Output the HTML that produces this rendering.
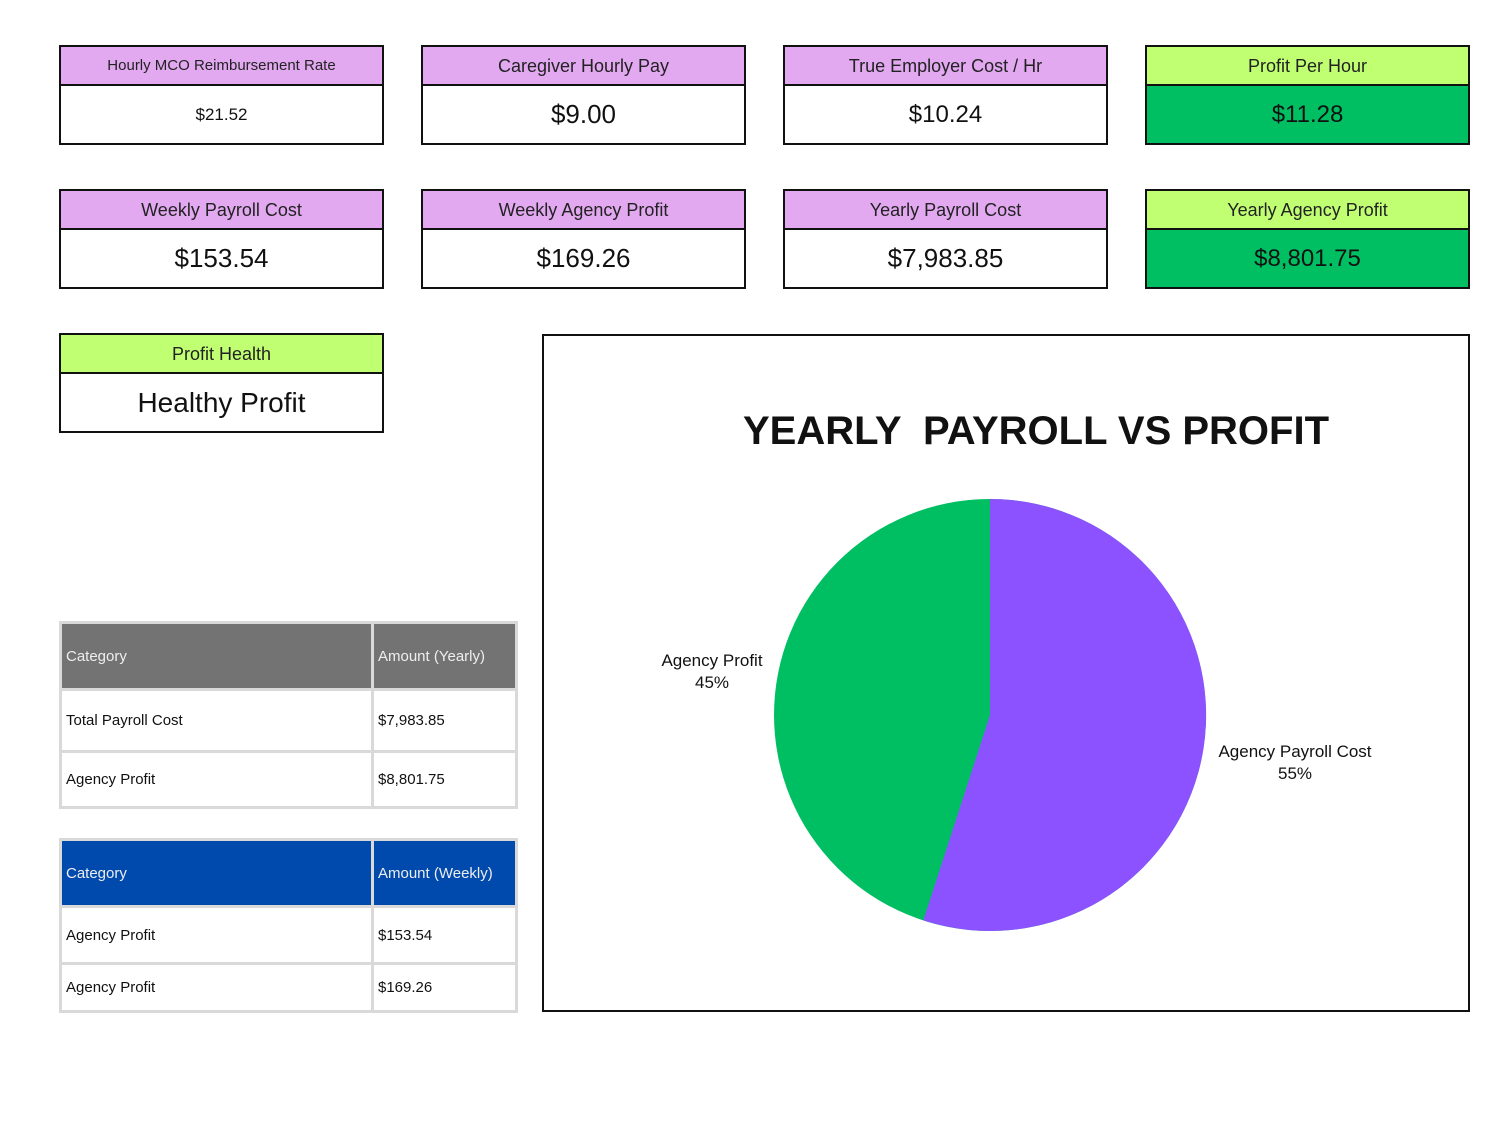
<!DOCTYPE html>
<html><head><meta charset="utf-8"><style>
*{margin:0;padding:0;box-sizing:border-box}
body{width:1500px;height:1124px;background:#fff;position:relative;font-family:"Liberation Sans",sans-serif;color:#111;overflow:hidden}
.card{position:absolute;width:325px;height:100px;border:2px solid #111;background:#fff}
.card .h{height:39px;border-bottom:2px solid #111;background:#e2a9f1;text-align:center;line-height:38px;font-size:18px;color:#222}
.card .v{height:57px;text-align:center;line-height:57px;font-size:26px}
.card.g .h{background:#c1ff72}
.card.g .v{background:#00bf63}
.t{position:absolute;border:3px solid #d9d9d9;border-collapse:collapse;font-size:15px}
.t td{border:3px solid #d9d9d9;padding-left:4px;vertical-align:middle}
.lbl{position:absolute;font-size:17px;text-align:center;line-height:22px}
</style></head><body>
<div class="card" style="left:59px;top:45px"><div class="h" style="font-size:15px">Hourly MCO Reimbursement Rate</div><div class="v" style="font-size:17px">$21.52</div></div>
<div class="card" style="left:421px;top:45px"><div class="h">Caregiver Hourly Pay</div><div class="v">$9.00</div></div>
<div class="card" style="left:783px;top:45px"><div class="h">True Employer Cost / Hr</div><div class="v" style="font-size:24px">$10.24</div></div>
<div class="card g" style="left:1145px;top:45px"><div class="h">Profit Per Hour</div><div class="v" style="font-size:24px">$11.28</div></div>
<div class="card" style="left:59px;top:189px"><div class="h">Weekly Payroll Cost</div><div class="v">$153.54</div></div>
<div class="card" style="left:421px;top:189px"><div class="h">Weekly Agency Profit</div><div class="v">$169.26</div></div>
<div class="card" style="left:783px;top:189px"><div class="h">Yearly Payroll Cost</div><div class="v">$7,983.85</div></div>
<div class="card g" style="left:1145px;top:189px"><div class="h">Yearly Agency Profit</div><div class="v" style="font-size:24px">$8,801.75</div></div>
<div class="card g" style="left:59px;top:333px"><div class="h" style="background:#c1ff72">Profit Health</div><div class="v" style="background:#fff;font-size:28px">Healthy Profit</div></div>

<table class="t" style="left:59px;top:621px;width:459px;height:188px">
<tr style="height:67px;background:#737373;color:#eee"><td style="width:312px">Category</td><td>Amount (Yearly)</td></tr>
<tr style="height:62px"><td>Total Payroll Cost</td><td>$7,983.85</td></tr>
<tr><td>Agency Profit</td><td>$8,801.75</td></tr>
</table>
<table class="t" style="left:59px;top:838px;width:459px;height:175px">
<tr style="height:67px;background:#004aad;color:#eee"><td style="width:312px">Category</td><td>Amount (Weekly)</td></tr>
<tr style="height:57px"><td>Agency Profit</td><td>$153.54</td></tr>
<tr><td>Agency Profit</td><td>$169.26</td></tr>
</table>

<div style="position:absolute;left:542px;top:334px;width:928px;height:678px;border:2px solid #111"></div>
<div style="position:absolute;left:542px;top:409px;width:988px;text-align:center;font-size:40px;font-weight:bold;color:#111;white-space:pre">YEARLY  PAYROLL VS PROFIT</div>
<svg style="position:absolute;left:0;top:0" width="1500" height="1124">
<circle cx="990" cy="715" r="216" fill="#00bf63"/>
<path d="M990,715 L990,499 A216,216 0 1,1 923.3,920.4 Z" fill="#8c52ff"/>
</svg>
<div class="lbl" style="left:640px;top:650px;width:144px">Agency Profit<br>45%</div>
<div class="lbl" style="left:1200px;top:741px;width:190px">Agency Payroll Cost<br>55%</div>
</body></html>
